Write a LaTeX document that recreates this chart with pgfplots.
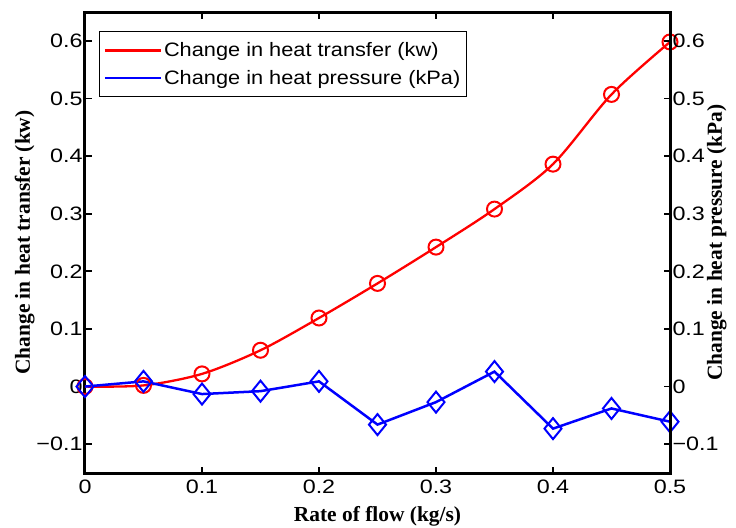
\documentclass[border=0pt]{standalone}
\usepackage{fontspec}
\setmainfont{Liberation Serif}
\newfontfamily\tickfont[FakeStretch=1.2]{Liberation Sans}
\newfontfamily\legfont[FakeStretch=1.12]{Liberation Sans}
\usepackage{pgfplots}
\pgfplotsset{compat=1.18}
\pgfplotstableread{
x y
0    0.000
0.05 0.002
0.10 0.022
0.15 0.063
0.20 0.119
0.25 0.179
0.30 0.242
0.35 0.308
0.40 0.386
0.45 0.507
0.50 0.598
}\heattransfer
\pgfplotstableread{
x y
0    0.000
0.05 0.009
0.10 -0.013
0.15 -0.008
0.20 0.009
0.25 -0.066
0.30 -0.027
0.35 0.026
0.40 -0.073
0.45 -0.038
0.50 -0.061
}\heatpressure
\begin{document}
\begin{tikzpicture}
\path[use as bounding box] (-85bp,-55bp) rectangle (651bp,473bp);
\pgfplotsset{
  common/.style={
    scale only axis, width=585bp, height=461bp,
    xmin=0, xmax=0.5, ymin=-0.15, ymax=0.65,
    xtick={0,0.1,0.2,0.3,0.4,0.5},
    xticklabels={0,0.1,0.2,0.3,0.4,0.5},
    ytick={-0.1,0,0.1,0.2,0.3,0.4,0.5,0.6},
    yticklabels={−0.1,0,0.1,0.2,0.3,0.4,0.5,0.6},
    ticklabel style={font=\tickfont\fontsize{19.5}{22}\selectfont},
    axis line style={line width=3bp},
    major tick style={line width=1.8bp, black},
    major tick length=6.5bp,
    tick align=inside,
  }
}
\begin{axis}[common,
  xtick pos=both, ytick pos=both,
  xticklabel pos=bottom, yticklabel pos=left,
  xticklabel style={yshift=-3bp},
  yticklabel style={xshift=1bp},
  xlabel={\bfseries\fontsize{21.5}{24}\selectfont Rate of flow (kg/s)},
  ylabel={\bfseries\fontsize{21.5}{24}\selectfont Change in heat transfer (kw)},
  every axis x label/.style={at={(axis description cs:0.5,-0.093)},anchor=center},
  every axis y label/.style={at={(axis description cs:-0.103,0.5)},rotate=90,anchor=center},
  legend style={at={(axis description cs:0.024,0.958)}, anchor=north west,
    draw=black, line width=1bp, font=\legfont\fontsize{19.5}{22}\selectfont,
    inner xsep=4bp, inner ysep=9bp, row sep=8bp, cells={anchor=west}},
  legend cell align=left,
]
\addplot[red, line width=2.3bp, smooth, tension=0.5, mark=o, mark size=7.5bp, mark options={line width=2bp},
  legend image code/.code={\draw[red,line width=2.3bp] (0bp,0bp) -- (56bp,0bp);}]
  table[x=x,y=y] {\heattransfer};
\addlegendentry{Change in heat transfer (kw)}
\addplot[blue, line width=2.5bp, mark=diamond, mark size=10.5bp, mark options={xscale=1.08,line width=2bp},
  legend image code/.code={\draw[blue,line width=2.5bp] (0bp,0bp) -- (56bp,0bp);}]
  table[x=x,y=y] {\heatpressure};
\addlegendentry{Change in heat pressure (kPa)}
\end{axis}
\begin{axis}[common,
  axis x line=none, axis y line*=right,
  yticklabel style={xshift=-1bp},
  ylabel={\bfseries\fontsize{21.5}{24}\selectfont Change in heat pressure (kPa)},
  every axis y label/.style={at={(axis description cs:1.08,0.5)},rotate=90,anchor=center},
]
\end{axis}
\end{tikzpicture}
\end{document}
